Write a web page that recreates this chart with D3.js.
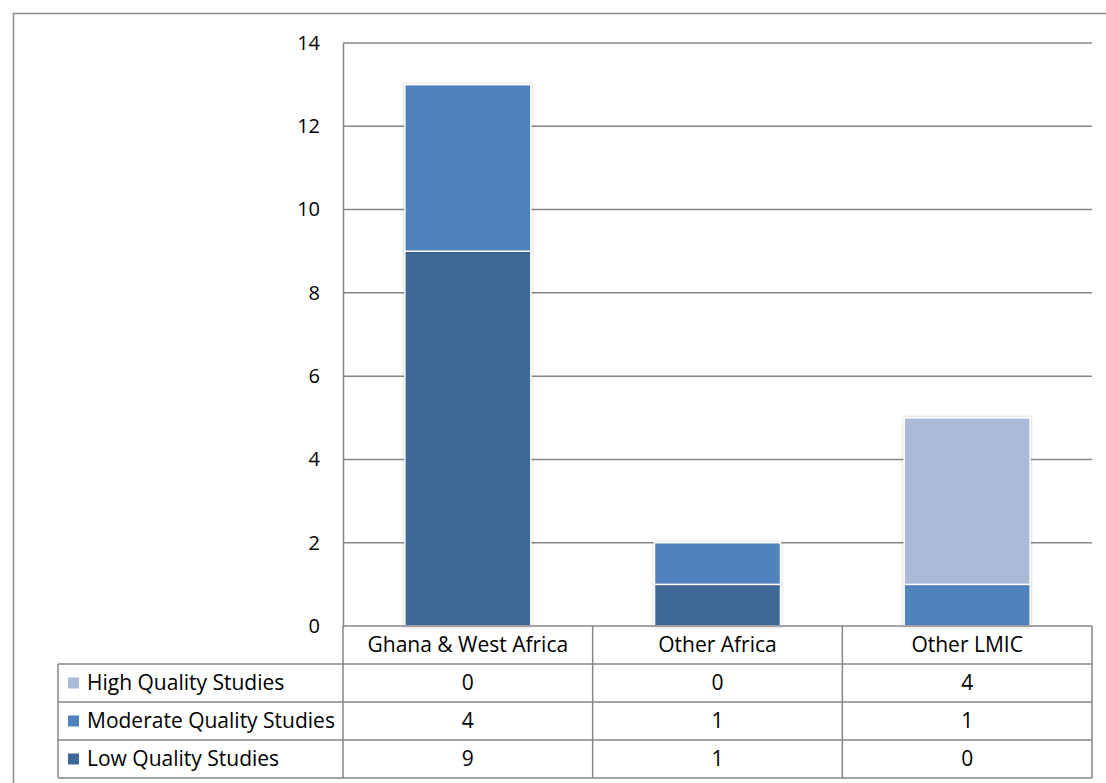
<!DOCTYPE html>
<html>
<head>
<meta charset="utf-8">
<script src="https://cdn.jsdelivr.net/npm/d3@7"></script>
<style>
  html, body { margin: 0; padding: 0; background: #fff; }
  svg { display: block; font-family: "Open Sans", "Noto Sans", sans-serif; }
</style>
</head>
<body>
<div id="chart"></div>
<script>
const categories = ['Ghana & West Africa', 'Other Africa', 'Other LMIC'];
const seriesNames = ['Low Quality Studies', 'Moderate Quality Studies', 'High Quality Studies'];
const lowValues = [9, 1, 0];
const moderateValues = [4, 1, 1];
const highValues = [0, 0, 4];
const yTicks = [0, 2, 4, 6, 8, 10, 12, 14];

const colors = {
  'Low Quality Studies': '#3E6898',
  'Moderate Quality Studies': '#4F81BD',
  'High Quality Studies': '#AABAD7',
};

const width = 1106;
const height = 783;
const margin = { top: 43, right: 14, bottom: 157, left: 343 };
const rowH = 38;
const tableLeft = 58;
const tickFont = 20;
const tableFont = 21;

const rows = categories.map((c, i) => ({
  category: c,
  'Low Quality Studies': lowValues[i],
  'Moderate Quality Studies': moderateValues[i],
  'High Quality Studies': highValues[i],
}));

const stack = d3.stack().keys(seriesNames)(rows);

const x = d3.scaleBand()
  .domain(categories)
  .range([margin.left, width - margin.right])
  .paddingInner(0)
  .paddingOuter(0);

const y = d3.scaleLinear()
  .domain([0, 14])
  .range([height - margin.bottom, margin.top]);

const svg = d3.select('#chart')
  .append('svg')
  .attr('width', width)
  .attr('height', height)
  .attr('viewBox', [0, 0, width, height]);

const defs = svg.append('defs');
const shadow = defs.append('filter')
  .attr('id', 'shadow')
  .attr('x', '-10%').attr('y', '-10%')
  .attr('width', '120%').attr('height', '120%');
shadow.append('feDropShadow')
  .attr('dx', 0).attr('dy', 0)
  .attr('stdDeviation', 1.5)
  .attr('flood-color', '#000')
  .attr('flood-opacity', 0.25);

// outer chart border
svg.append('rect')
  .attr('x', 13.5).attr('y', 13.5)
  .attr('width', width + 20).attr('height', height + 20)
  .attr('fill', 'none')
  .attr('stroke', '#8c8c8c')
  .attr('stroke-width', 1.5);

// gridlines
svg.append('g')
  .selectAll('line')
  .data(yTicks.slice(1))
  .join('line')
  .attr('x1', margin.left)
  .attr('x2', width - margin.right)
  .attr('y1', (d) => y(d))
  .attr('y2', (d) => y(d))
  .attr('stroke', '#868686')
  .attr('stroke-width', 1.5);

// y axis
const yAxis = svg.append('g')
  .attr('transform', `translate(${margin.left},0)`)
  .call(d3.axisLeft(y).tickValues(yTicks).tickSize(0).tickPadding(23));
yAxis.select('.domain').attr('stroke', '#868686').attr('stroke-width', 1.5);
yAxis.selectAll('text')
  .attr('font-size', tickFont)
  .attr('fill', '#000')
  .style('font-family', '"Open Sans", "Noto Sans", sans-serif');

// bars
const barW = 126;
svg.append('g')
  .selectAll('g')
  .data(stack)
  .join('g')
  .attr('fill', (d) => colors[d.key])
  .selectAll('rect')
  .data((d) => d.filter((p) => p[1] - p[0] > 0))
  .join('rect')
  .attr('x', (d) => x(d.data.category) + (x.bandwidth() - barW) / 2)
  .attr('y', (d) => y(d[1]))
  .attr('width', barW)
  .attr('height', (d) => y(d[0]) - y(d[1]))
  .attr('stroke', '#fff')
  .attr('stroke-width', 1.5)
  .attr('filter', 'url(#shadow)');

// data table
const table = svg.append('g');
const tableTop = y(0);
const lineColor = '#868686';
const tableRight = width - margin.right;
const tableSeries = ['High Quality Studies', 'Moderate Quality Studies', 'Low Quality Studies'];
const seriesData = {
  'High Quality Studies': highValues,
  'Moderate Quality Studies': moderateValues,
  'Low Quality Studies': lowValues,
};

// horizontal lines
const hLines = [
  { y: tableTop, x1: margin.left },
  { y: tableTop + rowH * 1, x1: tableLeft },
  { y: tableTop + rowH * 2, x1: tableLeft },
  { y: tableTop + rowH * 3, x1: tableLeft },
  { y: tableTop + rowH * 4, x1: tableLeft },
];
table.selectAll('line.h')
  .data(hLines)
  .join('line')
  .attr('class', 'h')
  .attr('x1', (d) => d.x1)
  .attr('x2', tableRight)
  .attr('y1', (d) => d.y)
  .attr('y2', (d) => d.y)
  .attr('stroke', lineColor)
  .attr('stroke-width', 1.5);

// vertical lines
const vLines = [margin.left, ...categories.map((c) => x(c) + x.bandwidth())];
table.selectAll('line.v')
  .data(vLines)
  .join('line')
  .attr('class', 'v')
  .attr('x1', (d) => d)
  .attr('x2', (d) => d)
  .attr('y1', tableTop)
  .attr('y2', tableTop + rowH * 4)
  .attr('stroke', lineColor)
  .attr('stroke-width', 1.5);
table.append('line')
  .attr('x1', tableLeft).attr('x2', tableLeft)
  .attr('y1', tableTop + rowH).attr('y2', tableTop + rowH * 4)
  .attr('stroke', lineColor)
  .attr('stroke-width', 1.5);

// header labels
table.selectAll('text.cat')
  .data(categories)
  .join('text')
  .attr('class', 'cat')
  .attr('x', (d) => x(d) + x.bandwidth() / 2)
  .attr('y', tableTop + rowH / 2)
  .attr('dy', '0.35em')
  .attr('text-anchor', 'middle')
  .attr('font-size', tableFont)
  .text((d) => d);

// series rows
const rowG = table.selectAll('g.row')
  .data(tableSeries)
  .join('g')
  .attr('class', 'row')
  .attr('transform', (d, i) => `translate(0,${tableTop + rowH * (i + 1)})`);

rowG.append('rect')
  .attr('x', tableLeft + 10)
  .attr('y', rowH / 2 - 5.5)
  .attr('width', 11)
  .attr('height', 11)
  .attr('fill', (d) => colors[d]);

rowG.append('text')
  .attr('x', tableLeft + 29)
  .attr('y', rowH / 2)
  .attr('dy', '0.35em')
  .attr('font-size', tableFont)
  .text((d) => d);

rowG.selectAll('text.val')
  .data((d) => seriesData[d].map((v, i) => ({ v, c: categories[i] })))
  .join('text')
  .attr('class', 'val')
  .attr('x', (d) => x(d.c) + x.bandwidth() / 2)
  .attr('y', rowH / 2)
  .attr('dy', '0.35em')
  .attr('text-anchor', 'middle')
  .attr('font-size', tableFont)
  .text((d) => d.v);
</script>
</body>
</html>
